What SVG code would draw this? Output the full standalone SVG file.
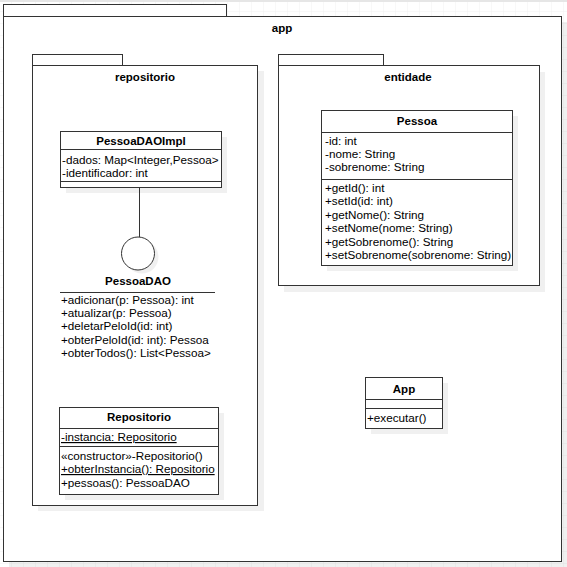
<svg xmlns="http://www.w3.org/2000/svg" width="567" height="567" viewBox="0 0 567 567">
<defs>
<pattern id="grid" width="12" height="12" patternUnits="userSpaceOnUse">
<path d="M12 0V12M0 12H12" fill="none" stroke="#f0f0f0" stroke-width="1"/>
</pattern>
<style>
.box{fill:#fff;stroke:#333;stroke-width:1}
.sh{fill:#000;fill-opacity:0.06}
.ln{stroke:#333;stroke-width:1;fill:none}
text{font-family:"Liberation Sans",Arial,sans-serif;font-size:11.7px;fill:#000}
.b{font-weight:bold;text-anchor:middle;font-size:11.5px}
.u{text-decoration:underline}
</style>
</defs>
<rect x="0" y="0" width="567" height="567" fill="#fff"/>
<rect x="0" y="0" width="567" height="567" fill="url(#grid)"/>
<rect x="0" y="0" width="567" height="2" fill="#e6e6e6"/>

<g id="pkg-app">
<rect class="sh" x="9" y="22" width="559" height="546"/>
<rect class="box" x="3.5" y="4.5" width="223" height="12"/>
<rect class="box" x="3.5" y="16.5" width="558" height="545"/>
<text class="b" x="282" y="32">app</text>
</g>

<g id="pkg-repositorio">
<rect class="sh" x="38" y="71" width="226" height="440"/>
<rect class="box" x="32.5" y="54.5" width="90" height="11"/>
<rect class="box" x="32.5" y="65.5" width="225" height="440"/>
<text class="b" x="145" y="81">repositorio</text>
</g>

<g id="pkg-entidade">
<rect class="sh" x="284" y="72" width="261" height="220"/>
<rect class="box" x="278.5" y="54.5" width="105" height="11"/>
<rect class="box" x="278.5" y="65.5" width="261" height="220"/>
<text class="b" x="408" y="81">entidade</text>
</g>

<g id="PessoaDAOImpl">
<rect class="sh" x="66" y="137" width="161" height="56"/>
<rect class="box" x="60.5" y="131.5" width="161" height="56"/>
<line class="ln" x1="60.5" y1="149.5" x2="221.5" y2="149.5"/>
<line class="ln" x1="60.5" y1="181.5" x2="221.5" y2="181.5"/>
<text class="b" x="141" y="145">PessoaDAOImpl</text>
<text x="62" y="164">-dados: Map&lt;Integer,Pessoa&gt;</text>
<text x="62" y="177">-identificador: int</text>
</g>

<g id="PessoaDAO">
<circle cx="142" cy="257" r="16.5" fill="#000" fill-opacity="0.06"/>
<circle cx="138" cy="253.5" r="16.5" fill="#fff" stroke="#333" stroke-width="1"/>
<text class="b" x="138" y="285">PessoaDAO</text>
<line class="ln" x1="60" y1="292.5" x2="215" y2="292.5"/>
<text x="61" y="304">+adicionar(p: Pessoa): int</text>
<text x="61" y="317">+atualizar(p: Pessoa)</text>
<text x="61" y="330">+deletarPeloId(id: int)</text>
<text x="61" y="344">+obterPeloId(id: int): Pessoa</text>
<text x="61" y="357">+obterTodos(): List&lt;Pessoa&gt;</text>
</g>

<g id="Repositorio">
<rect class="sh" x="65" y="413" width="159" height="87"/>
<rect class="box" x="59.5" y="407.5" width="159" height="87"/>
<line class="ln" x1="59.5" y1="428.5" x2="218.5" y2="428.5"/>
<line class="ln" x1="59.5" y1="446.5" x2="218.5" y2="446.5"/>
<text class="b" x="139" y="421">Repositorio</text>
<text class="u" x="61" y="441">-instancia: Repositorio</text>
<text x="61" y="460">«constructor»-Repositorio()</text>
<text class="u" x="61" y="473">+obterInstancia(): Repositorio</text>
<text x="61" y="487">+pessoas(): PessoaDAO</text>
</g>

<g id="Pessoa">
<rect class="sh" x="327" y="116" width="191" height="155"/>
<rect class="box" x="321.5" y="110.5" width="191" height="155"/>
<line class="ln" x1="321.5" y1="132.5" x2="512.5" y2="132.5"/>
<line class="ln" x1="321.5" y1="179.5" x2="512.5" y2="179.5"/>
<text class="b" x="417" y="125">Pessoa</text>
<text x="325" y="145">-id: int</text>
<text x="325" y="158">-nome: String</text>
<text x="325" y="171">-sobrenome: String</text>
<text x="325" y="192">+getId(): int</text>
<text x="325" y="205">+setId(id: int)</text>
<text x="325" y="219">+getNome(): String</text>
<text x="325" y="232">+setNome(nome: String)</text>
<text x="325" y="246">+getSobrenome(): String</text>
<text x="325" y="259">+setSobrenome(sobrenome: String)</text>
</g>

<g id="App">
<rect class="sh" x="371" y="383" width="77" height="51"/>
<rect class="box" x="365.5" y="377.5" width="77" height="51"/>
<line class="ln" x1="365.5" y1="399.5" x2="442.5" y2="399.5"/>
<line class="ln" x1="365.5" y1="408.5" x2="442.5" y2="408.5"/>
<text class="b" x="404" y="393">App</text>
<text x="367" y="422">+executar()</text>
</g>

<g id="connectors">
<line class="ln" x1="139.5" y1="187.5" x2="139.5" y2="237"/>
</g>
</svg>
